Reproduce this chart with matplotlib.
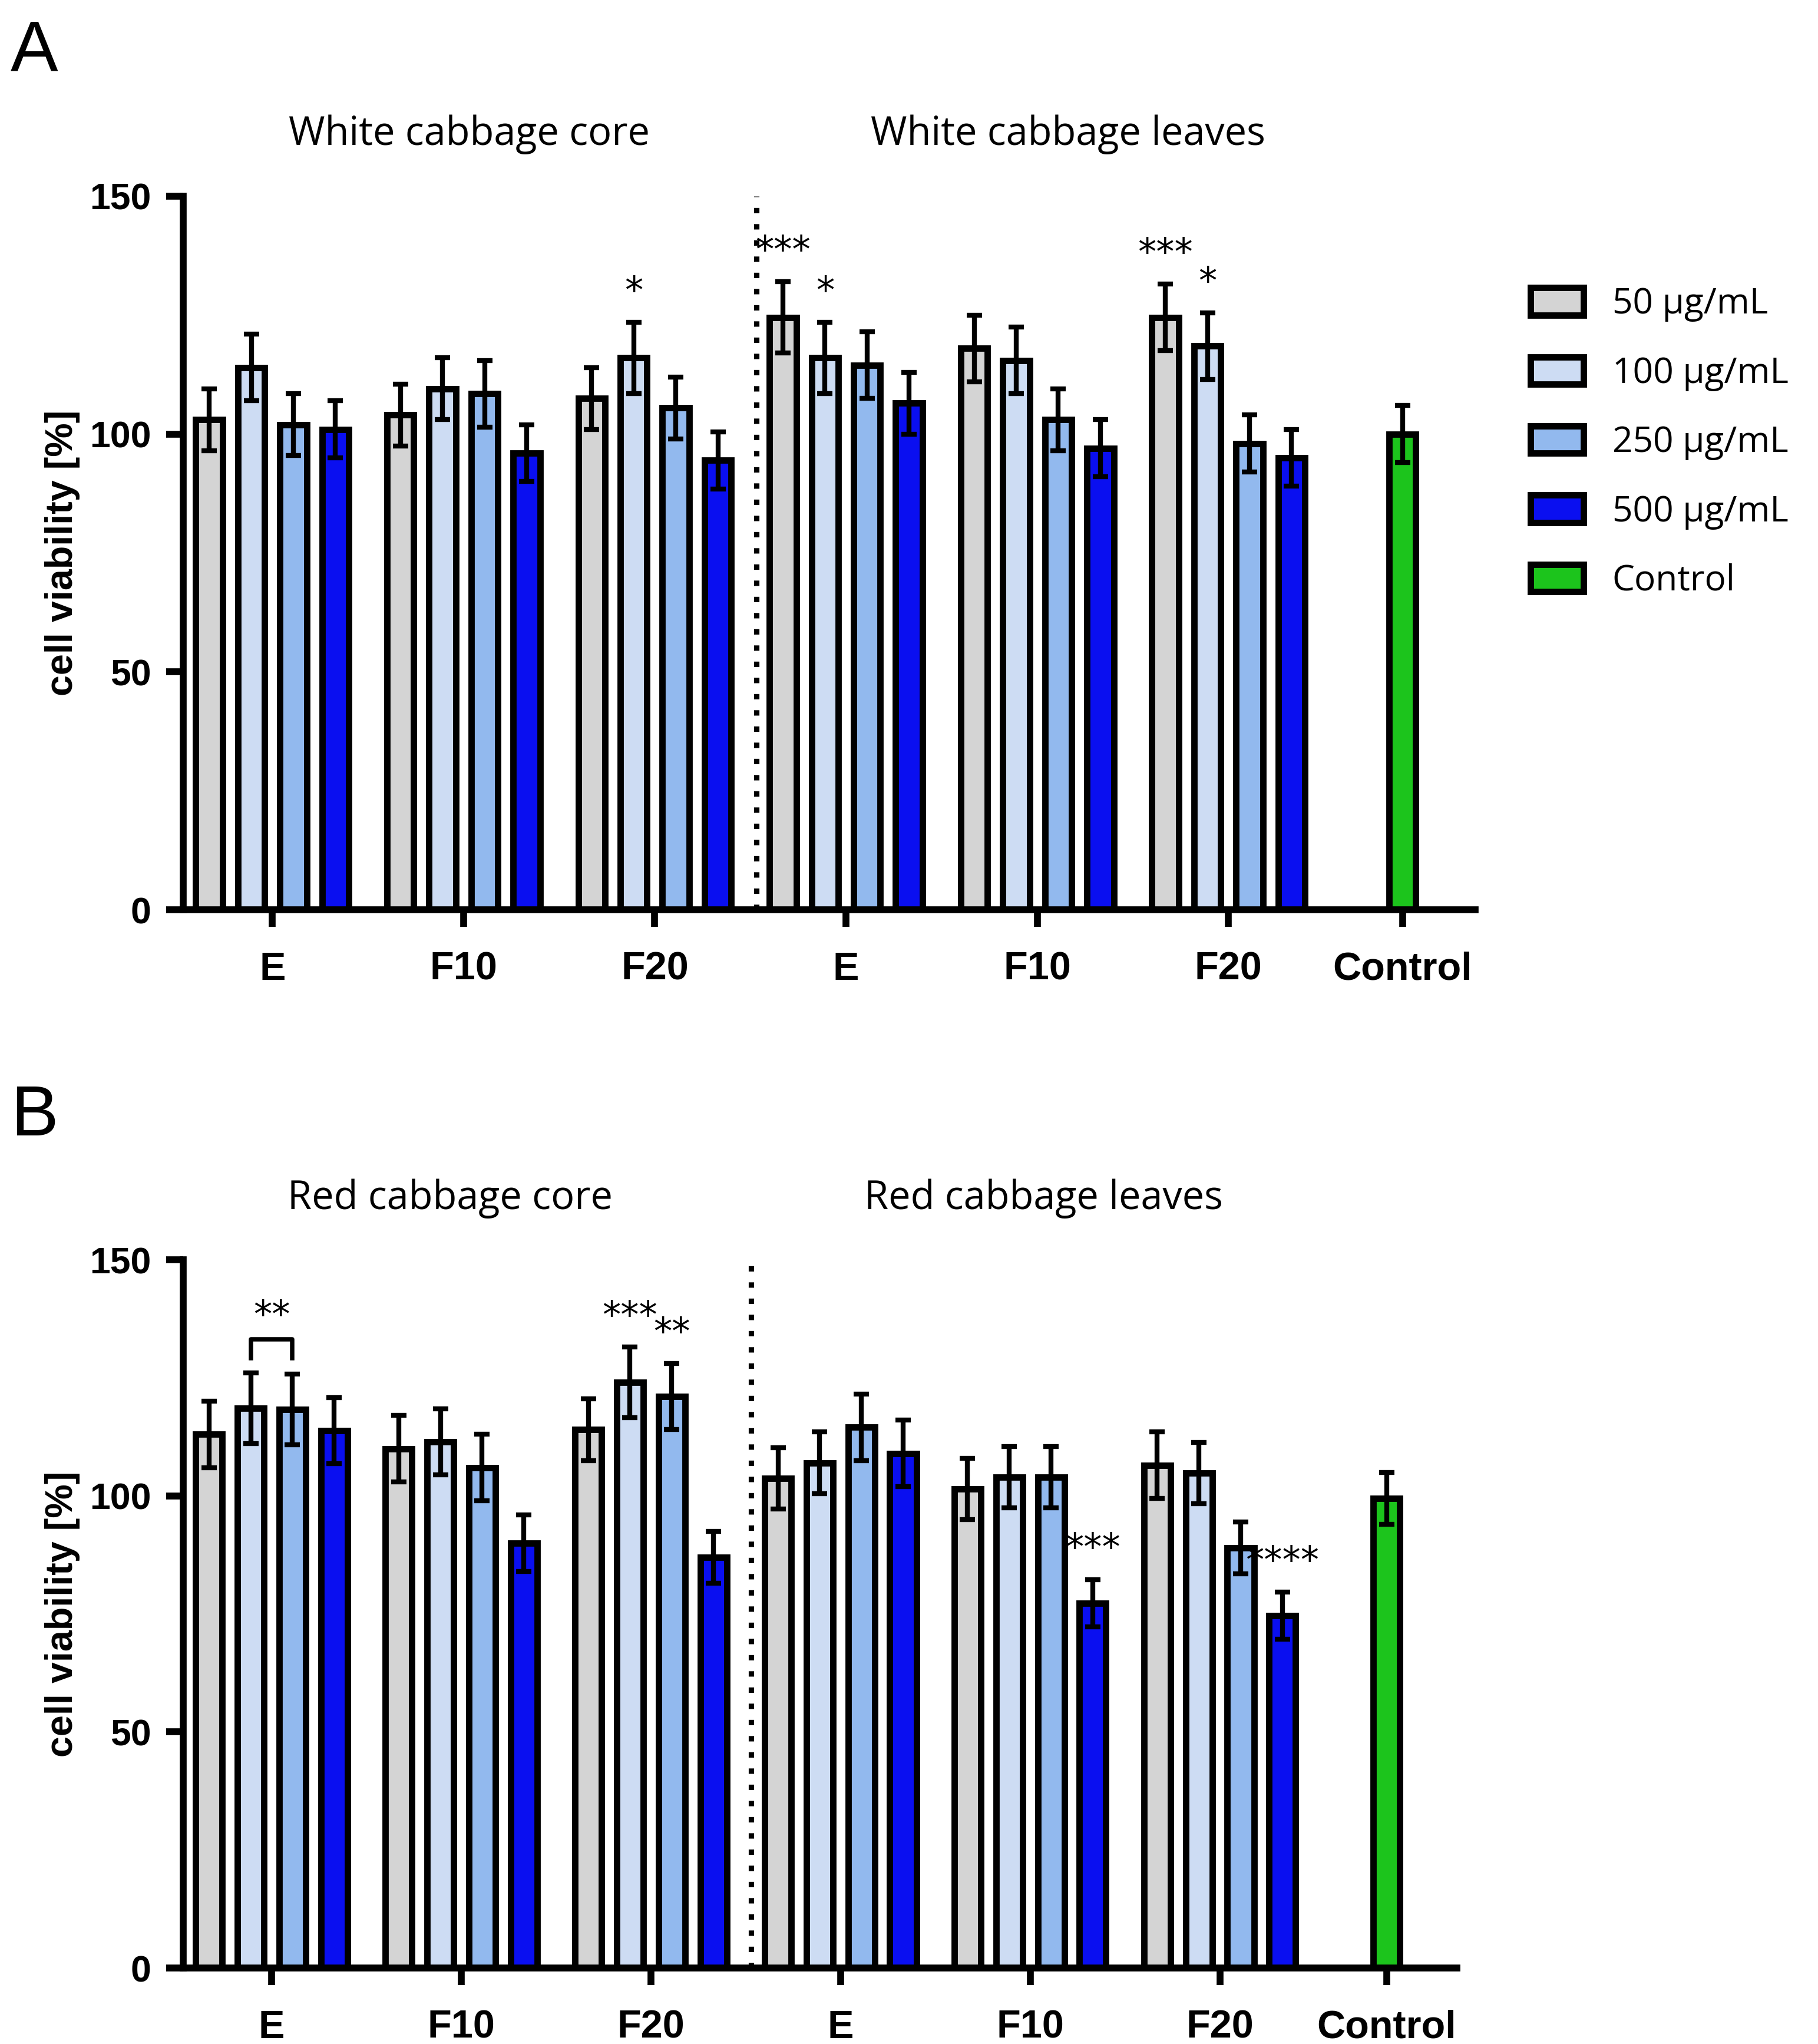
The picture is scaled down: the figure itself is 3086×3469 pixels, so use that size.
import numpy as np
import matplotlib
matplotlib.use("Agg")
import matplotlib.pyplot as plt
from matplotlib.patches import Patch

groups = ["E", "F10", "F20", "E", "F10", "F20"]
conc_labels = ["50 µg/mL", "100 µg/mL", "250 µg/mL", "500 µg/mL", "Control"]
colors = ["#d4d4d4", "#cddcf3", "#92b9ee", "#0a0ff0", "#1cc41c"]

# panel A: white cabbage (rows = groups, cols = concentrations)
a_mean = [[103, 114, 102, 101], [104, 109.5, 108.5, 96], [107.5, 116, 105.5, 94.5],
          [124.5, 116, 114.5, 106.5], [118, 115.5, 103, 97], [124.5, 118.5, 98, 95]]
a_sd = [[6.5, 7, 6.5, 6], [6.5, 6.5, 7, 6], [6.5, 7.5, 6.5, 6],
        [7.5, 7.5, 7, 6.5], [7, 7, 6.5, 6], [7, 7, 6, 6]]
a_ctrl = (100, 6)
a_titles = ["White cabbage core", "White cabbage leaves"]
a_stars = [(2, 1, "*"), (3, 0, "***"), (3, 1, "*"), (5, 0, "***"), (5, 1, "*")]

# panel B: red cabbage
b_mean = [[113, 118.6, 118.3, 113.8], [110, 111.4, 106, 90], [114, 124, 121, 87],
          [103.7, 107, 114.5, 109], [101.5, 104, 104, 77.3], [106.5, 104.8, 89, 74.6]]
b_sd = [[7, 7.5, 7.5, 7], [7, 7, 7, 6], [6.5, 7.5, 7, 5.5],
        [6.5, 6.5, 7, 7], [6.5, 6.5, 6.5, 5], [7, 6.5, 5.5, 5]]
b_ctrl = (99.5, 5.5)
b_titles = ["Red cabbage core", "Red cabbage leaves"]
b_stars = [(2, 1, "***"), (2, 2, "**"), (4, 3, "***"), (5, 3, "****")]
b_bracket = (0, 1, 2, "**")

plt.rcParams["font.family"] = ["Liberation Sans", "DejaVu Sans"]
fig = plt.figure(figsize=(3087 / 300, 3469 / 300), dpi=300)

offsets = np.array([-0.33, -0.11, 0.11, 0.33])
bw = 0.14


def draw(ax, mean, sd, ctrl, titles, stars, right, ctrl_x, title_x):
    mean = np.array(mean)
    sd = np.array(sd)
    centers = np.arange(1, 7)
    for j in range(4):
        xs = centers + offsets[j]
        ax.bar(xs, mean[:, j], bw, color=colors[j], edgecolor="black", linewidth=2.6, zorder=2)
        ax.errorbar(xs, mean[:, j], yerr=sd[:, j], fmt="none", ecolor="black",
                    elinewidth=2.0, capsize=3.2, capthick=2.0, zorder=3)
    ax.bar([ctrl_x], [ctrl[0]], bw, color=colors[4], edgecolor="black", linewidth=2.6, zorder=2)
    ax.errorbar([ctrl_x], [ctrl[0]], yerr=[ctrl[1]], fmt="none", ecolor="black",
                elinewidth=2.0, capsize=3.2, capthick=2.0, zorder=3)
    for g, j, s in stars:
        ax.text(g + 1 + offsets[j], mean[g, j] + sd[g, j] + 2.5, s, ha="center", va="bottom",
                fontsize=15, fontfamily="DejaVu Sans")
    ax.axvline(3.53, color="black", linestyle=(0, (1, 2)), linewidth=2.2, zorder=1)
    ax.set_xlim(0.534, right)
    ax.set_ylim(0, 150)
    ax.set_yticks([0, 50, 100, 150])
    ax.set_xticks(list(centers) + [ctrl_x])
    ax.set_xticklabels(groups + ["Control"], fontweight="bold", fontsize=16)
    for lab in ax.get_yticklabels():
        lab.set_fontweight("bold")
        lab.set_fontsize(15)
    ax.set_ylabel("cell viability [%]", fontweight="bold", fontsize=15.5)
    ax.spines[["top", "right"]].set_visible(False)
    for sp in ["left", "bottom"]:
        ax.spines[sp].set_linewidth(2.8)
    ax.tick_params(axis="both", width=2.8, length=7, pad=6)
    ax.tick_params(axis="x", pad=10)
    ax.text(title_x[0], 163, titles[0], ha="center", va="center", fontsize=16,
            fontfamily="Open Sans", clip_on=False)
    ax.text(title_x[1], 163, titles[1], ha="center", va="center", fontsize=16,
            fontfamily="Open Sans", clip_on=False)


W, H = 3087, 3469
axA = fig.add_axes([311 / W, 1 - 1544 / H, (2504 - 311) / W, (1544 - 333) / H])
draw(axA, a_mean, a_sd, a_ctrl, a_titles, a_stars, 7.29, 6.91, (2.03, 5.16))
axB = fig.add_axes([311 / W, 1 - 3340 / H, (2473 - 311) / W, (3340 - 2138) / H])
draw(axB, b_mean, b_sd, b_ctrl, b_titles, b_stars, 7.25, 6.88, (1.94, 5.07))

# bracket in panel B
g, j1, j2, s = b_bracket
bm = np.array(b_mean)
bs = np.array(b_sd)
x1, x2 = g + 1 + offsets[j1], g + 1 + offsets[j2]
top = max(bm[g, j1] + bs[g, j1], bm[g, j2] + bs[g, j2]) + 3
axB.plot([x1, x1, x2, x2], [top, top + 4, top + 4, top], color="black", linewidth=1.8)
axB.text((x1 + x2) / 2, top + 5, s, ha="center", va="bottom", fontsize=15, fontfamily="DejaVu Sans")

fig.text(8 / 1389, 1 - 40 / 1561, "A", fontsize=29, va="center", ha="left")
fig.text(8 / 1389, 1 - 853 / 1561, "B", fontsize=29, va="center", ha="left")

handles = [Patch(facecolor=c, edgecolor="black", linewidth=2.6) for c in colors]
fig.legend(handles, conc_labels, loc="upper left", bbox_to_anchor=(1158 / 1389, 1 - 208 / 1561),
           frameon=False, prop={"family": "Open Sans", "size": 14.5},
           handlelength=1.5, handleheight=0.8, labelspacing=0.95, handletextpad=0.8,
           borderaxespad=0)

fig.savefig("out.png", dpi=300)
